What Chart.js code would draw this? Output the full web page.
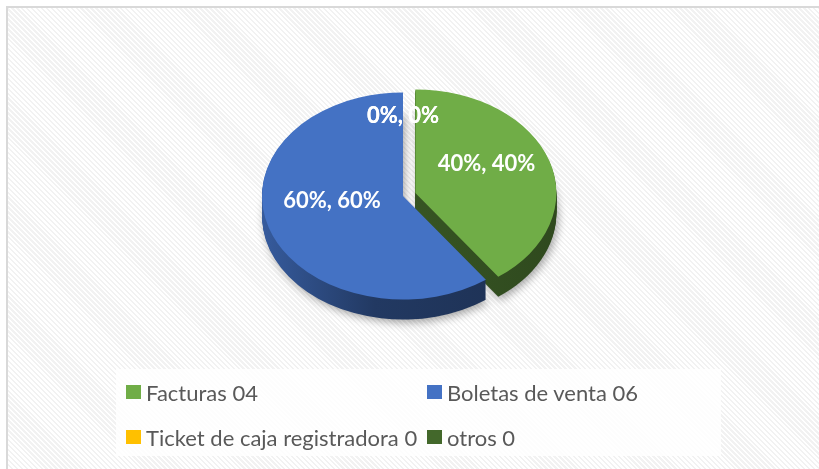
<!DOCTYPE html>
<html>
<head>
<meta charset="utf-8">
<script src="https://cdn.jsdelivr.net/npm/chart.js@4.4.0/dist/chart.umd.min.js"></script>
<style>
    html, body { margin: 0; padding: 0; background: #fff; overflow: hidden; }
    #frame {
        position: absolute; left: 6px; top: 6px; width: 830px; height: 480px;
        border-left: 2px solid #d9d9d9; border-top: 2px solid #d9d9d9;
        background: repeating-linear-gradient(45deg, #ffffff 0px, #ffffff 1.8px, #f2f2f2 1.8px, #f2f2f2 3.5px);
    }
    #chart { position: absolute; left: 0; top: 0; }
    #legend {
        position: absolute; left: 116px; top: 369px; width: 605px; height: 87px;
        background: rgba(255, 255, 255, 0.82);
    }
    .item {
        position: absolute; display: flex; align-items: center; white-space: nowrap;
        font-family: Lato, sans-serif; font-size: 22px; color: #595959; height: 14px;
    }
    .swatch { width: 15px; height: 14px; margin-right: 5px; flex: none; }
</style>
</head>
<body>
<div id="frame"></div>
<canvas id="chart" width="819" height="469"></canvas>
<div id="legend"></div>

<script>
// chart data
const categories = ['Facturas 04', 'Boletas de venta 06', 'Ticket de caja registradora 0', 'otros 0'];
const values = [4, 6, 0, 0];
const sliceColors = ['#70AD47', '#4472C4', '#FFC000', '#43682B'];

// 3d look
const TILT = 0.734;   // vertical squash of the pie top
const DEPTH = 20;     // thickness of the pie in px
const explode = [13, 0, 0, 0];

function shade(hex, f) {
    const n = parseInt(hex.slice(1), 16);
    const r = Math.round(((n >> 16) & 255) * f);
    const g = Math.round(((n >> 8) & 255) * f);
    const b = Math.round((n & 255) * f);
    return `rgb(${r},${g},${b})`;
}

function explodeShift(arc, i) {
    const mid = (arc.startAngle + arc.endAngle) / 2;
    return { dx: Math.cos(mid) * explode[i], dy: Math.sin(mid) * explode[i] };
}

// squash around the pie centre so the circle becomes an ellipse
function tiltAround(ctx, cy) {
    ctx.translate(0, cy);
    ctx.scale(1, TILT);
    ctx.translate(0, -cy);
}

function slicePath(ctx, arc) {
    ctx.beginPath();
    ctx.moveTo(arc.x, arc.y);
    ctx.arc(arc.x, arc.y, arc.outerRadius, arc.startAngle, arc.endAngle);
    ctx.closePath();
}

const pie3d = {
    id: 'pie3d',
    beforeDatasetDraw(chart, args) {
        const ctx = chart.ctx;
        const arcs = chart.getDatasetMeta(args.index).data;
        const cy = arcs[0].y;

        // sides, drawn from the bottom layer up
        for (let d = DEPTH; d >= 1; d--) {
            arcs.forEach((arc, i) => {
                if (arc.endAngle - arc.startAngle <= 0) return;
                const { dx, dy } = explodeShift(arc, i);
                ctx.save();
                ctx.translate(dx, dy * TILT + d);
                tiltAround(ctx, cy);
                const g = ctx.createLinearGradient(arc.x - arc.outerRadius, 0, arc.x + arc.outerRadius, 0);
                g.addColorStop(0, shade(sliceColors[i], 0.8));
                g.addColorStop(0.4, shade(sliceColors[i], 0.5));
                g.addColorStop(1, shade(sliceColors[i], 0.42));
                if (d === DEPTH) {
                    ctx.shadowColor = 'rgba(0,0,0,0.35)';
                    ctx.shadowBlur = 9;
                    ctx.shadowOffsetX = 2;
                    ctx.shadowOffsetY = 3;
                }
                slicePath(ctx, arc);
                ctx.fillStyle = g;
                ctx.fill();
                ctx.restore();
            });
        }

        // tops
        arcs.forEach((arc, i) => {
            const { dx, dy } = explodeShift(arc, i);
            ctx.save();
            ctx.translate(dx, dy * TILT);
            tiltAround(ctx, cy);
            arc.draw(ctx);
            ctx.restore();
        });
        return false;
    },
    afterDatasetsDraw(chart) {
        const ctx = chart.ctx;
        const arcs = chart.getDatasetMeta(0).data;
        const total = values.reduce((a, b) => a + b, 0);
        ctx.save();
        ctx.font = 'bold 22px Lato, sans-serif';
        ctx.fillStyle = '#ffffff';
        ctx.textAlign = 'center';
        ctx.textBaseline = 'middle';
        arcs.forEach((arc, i) => {
            const pct = Math.round(values[i] / total * 100) + '%';
            const mid = (arc.startAngle + arc.endAngle) / 2;
            const rr = arc.outerRadius * (values[i] === 0 ? 0.66 : 0.53);
            const { dx, dy } = explodeShift(arc, i);
            const x = arc.x + Math.cos(mid) * rr + dx;
            const y = arc.y + (Math.sin(mid) * rr + dy) * TILT - 12;
            ctx.fillText(pct + ', ' + pct, x, y);
        });
        ctx.restore();
    }
};

const chart = new Chart(document.getElementById('chart'), {
    type: 'pie',
    data: {
        labels: categories,
        datasets: [{
            data: values,
            backgroundColor: sliceColors,
            borderWidth: 0,
        }],
    },
    options: {
        responsive: false,
        animation: false,
        events: [],
        layout: { padding: { left: 253, right: 266, top: 55, bottom: 132 } },
        plugins: {
            legend: { display: false },
            tooltip: { enabled: false },
        },
    },
    plugins: [pie3d],
});

// legend in two columns, like the original
const legendPos = [[10, 16], [311, 16], [10, 61], [311, 61]];
const legendEl = document.getElementById('legend');
categories.forEach((name, i) => {
    const item = document.createElement('div');
    item.className = 'item';
    item.style.left = legendPos[i][0] + 'px';
    item.style.top = legendPos[i][1] + 'px';
    const sw = document.createElement('span');
    sw.className = 'swatch';
    sw.style.background = chart.data.datasets[0].backgroundColor[i];
    const txt = document.createElement('span');
    txt.textContent = name;
    item.appendChild(sw);
    item.appendChild(txt);
    legendEl.appendChild(item);
});
</script>
</body>
</html>
